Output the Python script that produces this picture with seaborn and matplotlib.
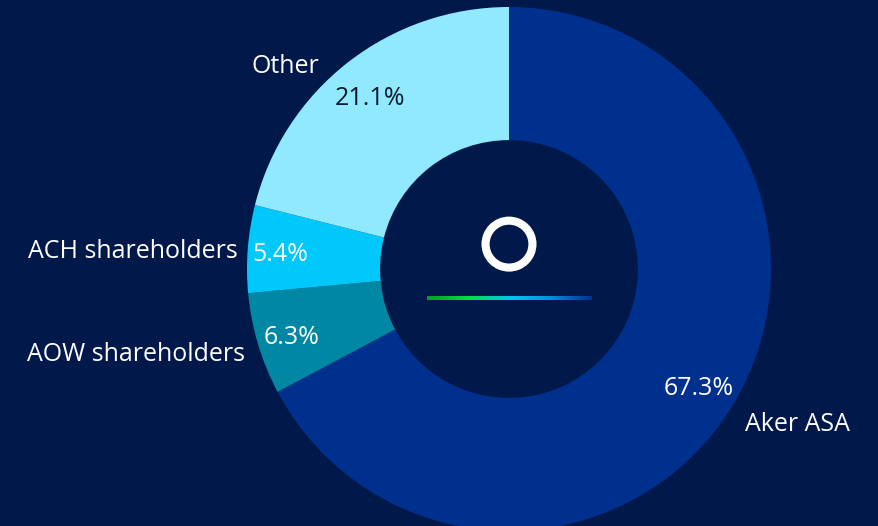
import numpy as np
import matplotlib
matplotlib.use("Agg")
import matplotlib.pyplot as plt
import matplotlib.transforms as mtransforms
import seaborn as sns
from matplotlib.patches import Wedge

sns.set_theme(style="white")
plt.rcParams['font.family'] = ['Open Sans', 'DejaVu Sans']

categories = ["Aker ASA", "AOW shareholders", "ACH shareholders", "Other"]
shares = [67.3, 6.3, 5.4, 21.1]
pct_labels = ["67.3%", "6.3%", "5.4%", "21.1%"]

BG = "#00184a"
colors = ["#00308e", "#0087a4", "#00c8fb", "#91e9ff"]
pct_colors = ["white", "white", "white", "#0a1a2a"]
# small pixel nudges (x right, y down) for label placement
label_nudge = [(0, 14), (0, 7), (3, 4), (-21, 14)]
pct_nudge = [(-3, 3), (-2, 4), (-4, 3), (0, 7)]

W, H = 879, 526
fig = plt.figure(figsize=(W / 100, H / 100), dpi=100, facecolor=BG)
ax = fig.add_axes([0, 0, 1, 1])
ax.set_facecolor(BG)

R_PX = 262.0
cx, cy = 509.0, 269.0

wedges, texts, autotexts = ax.pie(
    shares, labels=categories, colors=colors, startangle=90, counterclock=False,
    radius=1.0, wedgeprops=dict(width=0.508, edgecolor="none"),
    labeldistance=1.05, autopct=lambda p: "", pctdistance=0.86,
    textprops=dict(color="white", fontsize=18), frame=False)

ax.set_xlim(-cx / R_PX, (W - cx) / R_PX)
ax.set_ylim(-(H - cy) / R_PX, cy / R_PX)
ax.set_aspect("equal")
ax.axis("off")

def nudge(t, d):
    t.set_transform(ax.transData + mtransforms.ScaledTranslation(
        d[0] / 100, -d[1] / 100, fig.dpi_scale_trans))

for t, d in zip(texts, label_nudge):
    nudge(t, d)

for t, s, c, d in zip(autotexts, pct_labels, pct_colors, pct_nudge):
    t.set_text(s)
    t.set_color(c)
    t.set_fontsize(18)
    nudge(t, d)

# center logo ring
ax.add_patch(Wedge((0, 0.095), 0.105, 0, 360, width=0.031, facecolor="white", edgecolor="none"))

# gradient line
grad_cols = ["#00a020", "#00e040", "#00c8f0", "#0090e0", "#003090"]
cmap = matplotlib.colors.LinearSegmentedColormap.from_list("g", grad_cols)
gradient = np.linspace(0, 1, 256).reshape(1, -1)
ax.imshow(gradient, cmap=cmap, extent=[-0.313, 0.313, -0.118, -0.103], aspect="auto", zorder=5)

ax.set_xlim(-cx / R_PX, (W - cx) / R_PX)
ax.set_ylim(-(H - cy) / R_PX, cy / R_PX)

fig.savefig("out.png", dpi=100, facecolor=BG)
